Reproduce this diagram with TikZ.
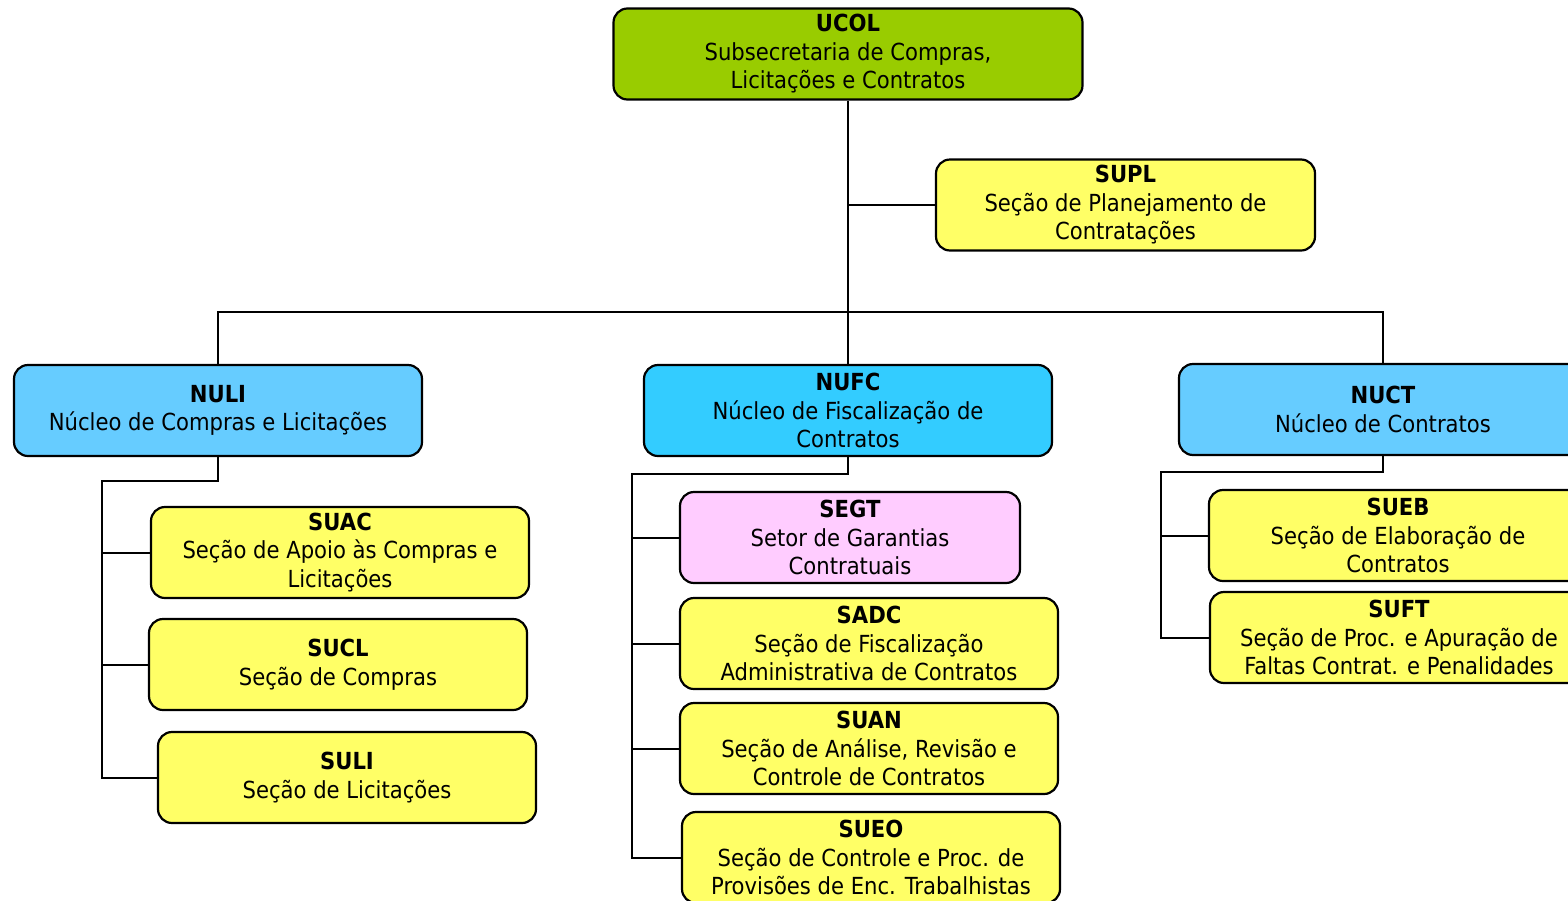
\documentclass[tikz,border=0pt]{standalone}
\usepackage{fontspec}
\setmainfont{DejaVu Sans Condensed}
\usetikzlibrary{calc}
\definecolor{ucolgreen}{HTML}{99CC00}
\definecolor{secyellow}{HTML}{FFFF66}
\definecolor{nucblue}{HTML}{66CCFF}
\definecolor{nufcblue}{HTML}{33CCFF}
\definecolor{setpink}{HTML}{FFCCFF}
\tikzset{unit/.style={draw, line width=2.2pt, rounded corners=14pt, align=center, inner sep=0pt,
    minimum height=91pt, font=\fontsize{23.5}{28.5}\selectfont}}
\tikzset{sec/.style={unit, fill=secyellow, minimum width=378pt}}
\tikzset{nuc/.style={unit, fill=nucblue, minimum width=408pt}}
\tikzset{link/.style={line width=2pt}}

\begin{document}
\begin{tikzpicture}[x=1pt,y=-1pt]
    \useasboundingbox (0,0) rectangle (1568,900);

    % lines first, boxes on top
    \coordinate (bus) at (848,312);
    \coordinate (nulispine) at (102,481);
    \coordinate (nufcspine) at (632,474);
    \coordinate (nuctspine) at (1161,472);

    \node[unit, fill=ucolgreen, minimum width=469pt] (ucol) at (848,54)
        {\textbf{UCOL}\\Subsecretaria de Compras,\\Licitações e Contratos};
    \node[sec, minimum width=379pt] (supl) at (1125.5,205)
        {\textbf{SUPL}\\Seção de Planejamento de\\Contratações};

    \node[nuc] (nuli) at (218,410.5) {\textbf{NULI}\\Núcleo de Compras e Licitações};
    \node[nuc, fill=nufcblue] (nufc) at (848,410.5) {\textbf{NUFC}\\Núcleo de Fiscalização de\\Contratos};
    \node[nuc] (nuct) at (1383,409.5) {\textbf{NUCT}\\Núcleo de Contratos};

    \node[sec] (suac) at (340,552.5) {\textbf{SUAC}\\Seção de Apoio às Compras e\\Licitações};
    \node[sec] (sucl) at (338,664.5) {\textbf{SUCL}\\Seção de Compras};
    \node[sec] (suli) at (347,777.5) {\textbf{SULI}\\Seção de Licitações};

    \node[sec, fill=setpink, minimum width=340pt] (segt) at (850,537.5) {\textbf{SEGT}\\Setor de Garantias\\Contratuais};
    \node[sec] (sadc) at (869,643.5) {\textbf{SADC}\\Seção de Fiscalização\\Administrativa de Contratos};
    \node[sec] (suan) at (869,748.5) {\textbf{SUAN}\\Seção de Análise, Revisão e\\Controle de Contratos};
    \node[sec] (sueo) at (871,857.5) {\textbf{SUEO}\\Seção de Controle e Proc. de\\Provisões de Enc. Trabalhistas};

    \node[sec] (sueb) at (1398,535.5) {\textbf{SUEB}\\Seção de Elaboração de\\Contratos};
    \node[sec] (suft) at (1399,637.5) {\textbf{SUFT}\\Seção de Proc. e Apuração de\\Faltas Contrat. e Penalidades};

    % top level
    \draw[link] (ucol.south) -- (nufc.north);
    \draw[link] (ucol.south |- supl.west) -- (supl.west);
    \draw[link] (nuli.north) |- (bus) -| (nuct.north);

    % NULI
    \draw[link] (nuli.south) |- (nulispine) |- (suli.west);
    \foreach \s in {suac,sucl}
        \draw[link] (nulispine |- \s.west) -- (\s.west);

    % NUFC
    \draw[link] (nufc.south) |- (nufcspine) |- (sueo.west);
    \foreach \s in {segt,sadc,suan}
        \draw[link] (nufcspine |- \s.west) -- (\s.west);

    % NUCT
    \draw[link] (nuct.south) |- (nuctspine) |- (suft.west);
    \draw[link] (nuctspine |- sueb.west) -- (sueb.west);
\end{tikzpicture}
\end{document}
